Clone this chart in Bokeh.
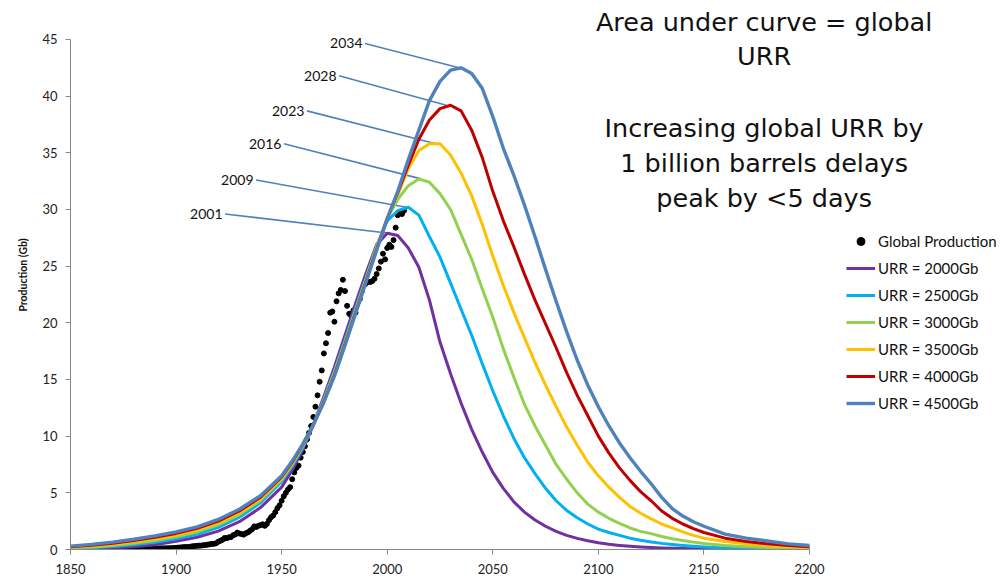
from bokeh.plotting import figure
from bokeh.models import Range1d, FixedTicker, Legend, LegendItem, Label
from bokeh.embed import file_html
from bokeh.resources import INLINE

# ---------------- data ----------------
YEARS = [1850, 1860, 1870, 1880, 1890, 1900, 1910, 1920, 1930, 1940,
         1950, 1955, 1960, 1965, 1970, 1975, 1980, 1985, 1990, 1995,
         2000, 2005, 2010, 2015, 2020, 2025, 2030, 2035, 2040, 2045,
         2050, 2055, 2060, 2065, 2070, 2075, 2080, 2085, 2090, 2095,
         2100, 2105, 2110, 2115, 2120, 2125, 2130, 2135, 2140, 2145,
         2150, 2160, 2170, 2180, 2190, 2200]

URR_2000 = [0.05, 0.08, 0.14, 0.25, 0.42, 0.72, 1.08, 1.62, 2.45, 3.7,
            5.5, 7.0, 8.8, 11.0, 13.5, 16.1, 18.9, 21.7, 24.4, 26.9,
            27.9, 27.7, 26.6, 24.9, 22.0, 18.3, 15.5, 12.9, 10.6, 8.6,
            6.8, 5.4, 4.2, 3.3, 2.6, 2.05, 1.6, 1.25, 0.98, 0.77,
            0.6, 0.46, 0.36, 0.28, 0.22, 0.17, 0.13, 0.1, 0.08, 0.06,
            0.05, 0.03, 0.02, 0.02, 0.01, 0.01]

URR_2500 = [0.1, 0.16, 0.26, 0.42, 0.63, 0.95, 1.35, 1.95, 2.85, 4.12,
            6.0, 7.35, 9.0, 11.0, 13.3, 15.8, 18.5, 21.3, 24.0, 26.8,
            29.0, 29.9, 30.2, 29.5, 27.6, 25.8, 23.5, 21.2, 18.9, 16.4,
            14.0, 11.8, 9.8, 8.1, 6.7, 5.4, 4.3, 3.45, 2.8, 2.25,
            1.8, 1.5, 1.25, 1.0, 0.82, 0.67, 0.54, 0.44, 0.35, 0.28,
            0.22, 0.14, 0.09, 0.06, 0.04, 0.03]

URR_3000 = [0.15, 0.23, 0.36, 0.55, 0.8, 1.12, 1.55, 2.17, 3.08, 4.32,
            6.15, 7.5, 9.1, 11.0, 13.2, 15.6, 18.3, 21.1, 23.9, 26.7,
            29.2, 30.9, 32.1, 32.7, 32.4, 31.4, 30.0, 27.8, 25.6, 23.0,
            20.5, 17.7, 15.2, 12.8, 10.9, 9.2, 7.5, 6.2, 5.0, 4.0,
            3.3, 2.75, 2.3, 1.9, 1.6, 1.4, 1.15, 0.95, 0.8, 0.65,
            0.52, 0.35, 0.25, 0.18, 0.12, 0.08]

URR_3500 = [0.2, 0.3, 0.46, 0.68, 0.95, 1.28, 1.72, 2.35, 3.25, 4.48,
            6.3, 7.6, 9.2, 11.0, 13.1, 15.5, 18.2, 21.0, 23.8, 26.6,
            29.2, 31.3, 33.6, 35.2, 35.8, 35.8, 34.8, 33.2, 31.2, 28.7,
            25.9, 23.3, 20.9, 18.7, 16.5, 14.5, 12.6, 10.8, 9.2, 7.7,
            6.5, 5.5, 4.6, 3.8, 3.2, 2.7, 2.25, 1.9, 1.55, 1.25,
            1.0, 0.7, 0.5, 0.35, 0.25, 0.18]

URR_4000 = [0.25, 0.38, 0.56, 0.8, 1.08, 1.42, 1.87, 2.5, 3.4, 4.62,
            6.4, 7.7, 9.25, 11.0, 13.05, 15.4, 18.1, 20.9, 23.7, 26.5,
            29.2, 31.5, 33.9, 36.2, 37.9, 38.9, 39.2, 38.7, 37.0, 34.6,
            31.6, 29.0, 26.7, 24.3, 22.0, 19.9, 17.8, 15.6, 13.6, 11.8,
            10.0, 8.5, 7.2, 6.1, 5.1, 4.3, 3.4, 2.75, 2.25, 1.85,
            1.5, 1.0, 0.7, 0.5, 0.35, 0.25]

URR_4500 = [0.3, 0.45, 0.65, 0.9, 1.2, 1.55, 2.0, 2.65, 3.55, 4.75,
            6.5, 7.8, 9.3, 11.0, 13.0, 15.3, 18.0, 20.8, 23.6, 26.4,
            29.2, 31.6, 34.4, 37.0, 39.6, 41.3, 42.3, 42.5, 42.0, 40.7,
            38.2, 35.4, 33.0, 30.4, 27.6, 24.7, 21.9, 19.2, 16.7, 14.5,
            12.6, 10.9, 9.4, 8.1, 6.9, 5.8, 4.6, 3.6, 2.95, 2.45,
            2.05, 1.35, 1.0, 0.75, 0.5, 0.35]

PROD_YEARS = list(range(1850, 2009))
PROD = [0.0, 0.0, 0.0, 0.0, 0.0, 0.0, 0.0, 0.0, 0.0, 0.0,
        0.0, 0.0, 0.0, 0.0, 0.01, 0.01, 0.01, 0.01, 0.01, 0.01,
        0.01, 0.01, 0.01, 0.02, 0.02, 0.02, 0.02, 0.03, 0.03, 0.03,
        0.03, 0.04, 0.04, 0.05, 0.05, 0.05, 0.06, 0.06, 0.07, 0.08,
        0.08, 0.09, 0.09, 0.1, 0.1, 0.1, 0.11, 0.12, 0.12, 0.13,
        0.15, 0.17, 0.18, 0.2, 0.22, 0.22, 0.21, 0.26, 0.29, 0.3,
        0.33, 0.34, 0.35, 0.38, 0.4, 0.43, 0.46, 0.5, 0.5, 0.56,
        0.69, 0.77, 0.86, 1.02, 1.0, 1.07, 1.1, 1.26, 1.32, 1.49,
        1.41, 1.37, 1.31, 1.44, 1.51, 1.65, 1.79, 2.04, 1.99, 2.09,
        2.15, 2.22, 2.09, 2.26, 2.59, 2.85, 3.0, 3.3, 3.65, 3.9,
        4.3, 4.7, 5.0, 5.3, 5.5, 6.2, 6.8, 7.2, 7.4, 8.1,
        8.6, 9.1, 9.7, 10.3, 10.9, 11.7, 12.6, 13.6, 14.8, 15.8,
        17.3, 18.2, 19.1, 20.9, 21.0, 20.1, 21.9, 22.6, 22.9, 23.8,
        22.8, 21.5, 20.8, 20.6, 21.1, 20.9, 21.8, 22.1, 22.8, 23.3,
        23.5, 23.6, 23.6, 23.7, 23.9, 24.3, 24.8, 25.4, 26.1, 25.6,
        26.6, 26.9, 26.7, 27.3, 28.4, 29.5, 29.7, 29.6, 29.9]

SERIES = [URR_2000, URR_2500, URR_3000, URR_3500, URR_4000, URR_4500]
SERIES_NAMES = ["URR = 2000Gb", "URR = 2500Gb", "URR = 3000Gb",
                "URR = 3500Gb", "URR = 4000Gb", "URR = 4500Gb"]
PEAK_LABELS = ["2001", "2009", "2016", "2023", "2028", "2034"]
X_TICKS = [1850, 1900, 1950, 2000, 2050, 2100, 2150, 2200]
Y_TICKS = [0, 5, 10, 15, 20, 25, 30, 35, 40, 45]

NOTE_LINES = ["Area under curve = global", "URR",
              "Increasing global URR by", "1 billion barrels delays",
              "peak by <5 days"]

# ---------------- styling / layout ----------------
COLORS = ["#7030A0", "#00B0F0", "#92D050", "#FFC000", "#C00000", "#4F81BD"]
WIDTHS = [3, 3, 3, 3, 3, 3.4]
LEADER_COLOR = "#4F81BD"
LABEL_X = [1922.0, 1936.7, 1949.9, 1960.8, 1976.0, 1988.3]
LABEL_Y = [29.6, 32.6, 35.8, 38.7, 41.8, 44.65]
NOTE_X = 2178.5           # centre of the note block (data units)
NOTE_BASELINES = [46.55, 43.55, 37.2, 34.1, 31.0]   # data units
FONT = "Lato"

X_AXIS_START, X_AXIS_END = 1850, 2200
Y_AXIS_START, Y_AXIS_END = 0, 45
# the frame extends to the figure's right and top edges, so that notes and
# legend outside the axis area are not clipped; the axes are bounded
FRAME_X_END = 2294.25
FRAME_Y_END = 48.44

p = figure(width=1008, height=579,
           x_range=Range1d(X_AXIS_START, FRAME_X_END),
           y_range=Range1d(Y_AXIS_START, FRAME_Y_END),
           output_backend="svg", toolbar_location=None,
           min_border_left=70, min_border_right=0,
           min_border_top=0, min_border_bottom=30)
p.outline_line_color = None
p.xgrid.visible = False
p.ygrid.visible = False
p.background_fill_color = "white"

for ax in (p.xaxis[0], p.yaxis[0]):
    ax.axis_line_color = "#868686"
    ax.major_tick_line_color = "#868686"
    ax.major_tick_in = 0
    ax.major_tick_out = 5
    ax.minor_tick_line_color = None
    ax.major_label_text_font = FONT
    ax.major_label_text_font_size = "13px"
    ax.major_label_text_color = "#222222"

p.xaxis.bounds = (X_AXIS_START, X_AXIS_END)
p.yaxis.bounds = (Y_AXIS_START, Y_AXIS_END)
p.xaxis.ticker = FixedTicker(ticks=X_TICKS)
p.yaxis.ticker = FixedTicker(ticks=Y_TICKS)
p.xaxis.major_label_standoff = 9
p.yaxis.major_label_standoff = 8
p.yaxis.axis_label = "Production (Gb)"
p.yaxis.axis_label_text_font = FONT
p.yaxis.axis_label_text_font_style = "bold"
p.yaxis.axis_label_text_font_size = "10.5px"
p.yaxis.axis_label_text_color = "#111111"
p.yaxis.axis_label_standoff = 10

# leader lines (peak year labels -> curve peaks)
lx0, ly0, lx1, ly1 = [], [], [], []
for lbl, sx, sy, ser in zip(PEAK_LABELS, LABEL_X, LABEL_Y, SERIES):
    lx0.append(sx + 1.2)
    ly0.append(sy)
    lx1.append(float(lbl))
    ly1.append(max(ser))
p.segment(x0=lx0, y0=ly0, x1=lx1, y1=ly1, line_color=LEADER_COLOR, line_width=1.6)

# global production dots
dots = p.scatter(PROD_YEARS, PROD, size=5, marker="circle",
                 fill_color="black", line_color="black")

renderers = []
for ser, col, w in zip(SERIES, COLORS, WIDTHS):
    r = p.line(YEARS, ser, line_color=col, line_width=w, line_join="round")
    renderers.append(r)

for lbl, sx, sy in zip(PEAK_LABELS, LABEL_X, LABEL_Y):
    p.add_layout(Label(x=sx, y=sy, text=lbl, text_align="right",
                       text_baseline="middle", text_font=FONT,
                       text_font_size="14px", text_color="#111111"))

for txt, base in zip(NOTE_LINES, NOTE_BASELINES):
    p.add_layout(Label(x=NOTE_X, y=base, text=txt, text_align="center",
                       text_baseline="alphabetic",
                       text_font="DejaVu Sans", text_font_size="25.5px",
                       text_color="#111111"))

items = [LegendItem(label="Global Production", renderers=[dots])]
for name, r in zip(SERIES_NAMES, renderers):
    items.append(LegendItem(label=name, renderers=[r]))
legend = Legend(items=items, location=(776, 136),
                glyph_width=29, glyph_height=20, label_height=20,
                spacing=7, padding=0, margin=0, label_standoff=3,
                label_text_font=FONT, label_text_font_size="15px",
                label_text_color="#111111",
                border_line_alpha=0, background_fill_alpha=0)
p.add_layout(legend)

open("out.html", "w").write(file_html(p, INLINE))
